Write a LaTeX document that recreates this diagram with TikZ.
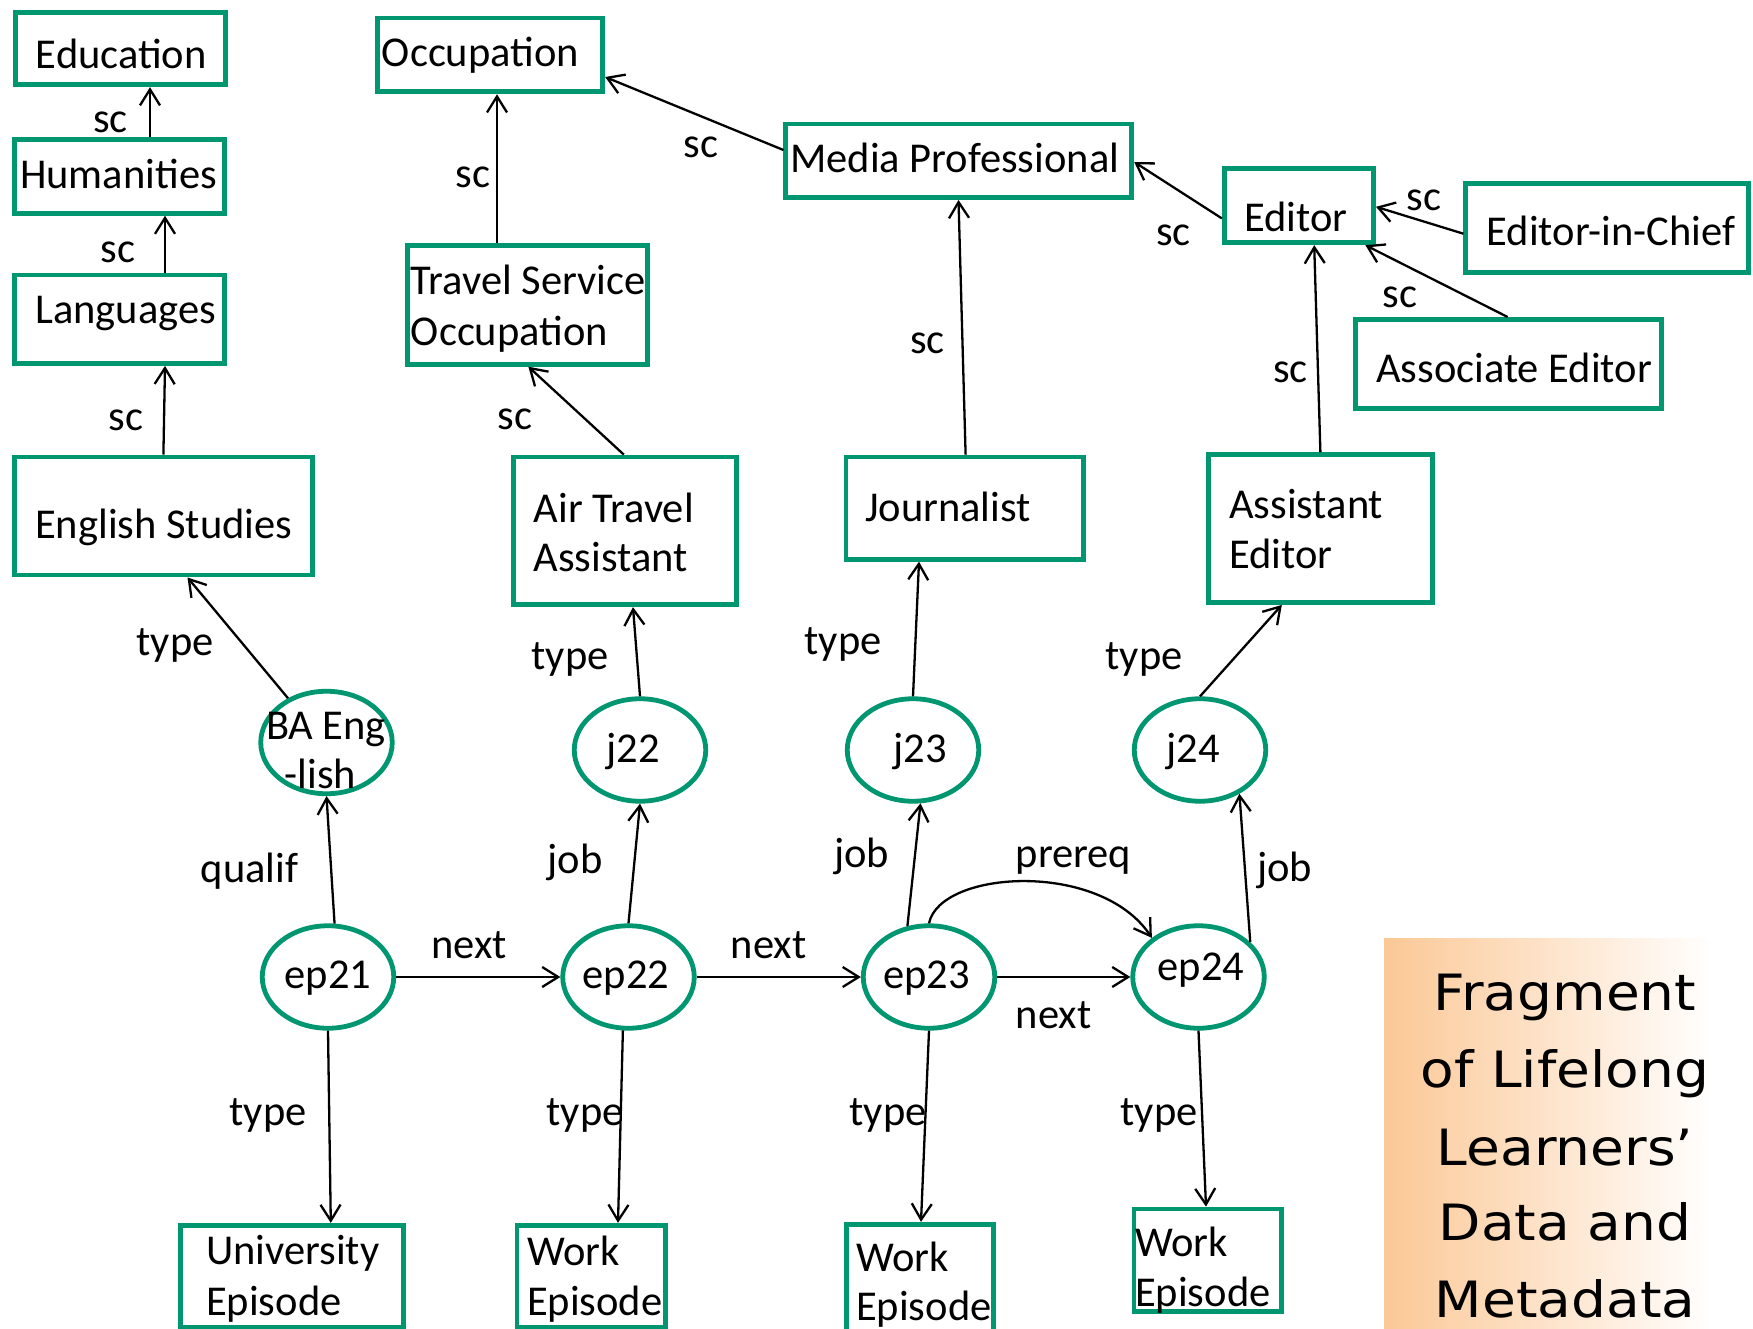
\documentclass[tikz,border=0pt]{standalone}
\usepackage{fontspec}
\setmainfont{Carlito}
\newfontfamily\titlefont[FakeStretch=1.1]{DejaVu Sans}
\usetikzlibrary{arrows.meta,shapes.geometric}
\definecolor{grn}{RGB}{0,150,112}
\definecolor{org}{RGB}{251,200,150}
\newcommand\lblfont{\fontsize{42.5}{48.5}\selectfont}
\newcommand\ttlfont{\titlefont\fontsize{50}{77}\selectfont}
\begin{document}
\begin{tikzpicture}[x=1pt,y=-1pt,
  box/.style={draw=grn,line width=4.8pt,inner sep=0pt,rectangle},
  ell/.style={draw=grn,line width=4.8pt,ellipse,inner sep=0pt,minimum width=131.5pt,minimum height=102.5pt},
  txt/.style={anchor=base west,inner sep=0pt,font=\lblfont},
  lab/.style={anchor=base,inner sep=0pt,font=\lblfont},
  ttl/.style={anchor=base,inner sep=0pt,font=\ttlfont},
  arr/.style={line width=2.3pt,-{Straight Barb[length=16pt,width=20pt]}},
]
\useasboundingbox (0,0) rectangle (1753,1329);
\clip (0,0) rectangle (1753,1329);
\fill[white] (0,0) rectangle (1753,1329);
\shade[left color=org,right color=white] (1384,938) rectangle (1713,1329);

% ---------- boxes ----------
\node[box,minimum width=209.8pt,minimum height=72.6pt] (edu) at (120.5,48.5) {};
\node[box,minimum width=209.8pt,minimum height=73.4pt] (hum) at (119.7,176.6) {};
\node[box,minimum width=209.8pt,minimum height=88.4pt] (lang) at (119.7,319.3) {};
\node[box,minimum width=297.7pt,minimum height=118.1pt] (eng) at (163.6,516) {};
\node[box,minimum width=225.5pt,minimum height=73.8pt] (occ) at (490,55) {};
\node[box,minimum width=240pt,minimum height=119pt] (tso) at (527.3,304.8) {};
\node[box,minimum width=222.6pt,minimum height=147.8pt] (ata) at (625,530.9) {};
\node[box,minimum width=237.8pt,minimum height=102.3pt] (jou) at (964.9,508.1) {};
\node[box,minimum width=346pt,minimum height=73.4pt] (med) at (958.8,160.8) {};
\node[box,minimum width=149.3pt,minimum height=74.2pt] (edi) at (1298.9,205.7) {};
\node[box,minimum width=283pt,minimum height=89.3pt] (eic) at (1607.3,228.2) {};
\node[box,minimum width=306pt,minimum height=89.1pt] (ase) at (1508.3,364) {};
\node[box,minimum width=223.6pt,minimum height=147.7pt] (ade) at (1320.6,528.7) {};
\node[box,minimum width=222.3pt,minimum height=102.5pt] (uni) at (292,1276.5) {};
\node[box,minimum width=148.2pt,minimum height=102.5pt] (w22) at (591,1276.5) {};
\node[box,minimum width=147.2pt,minimum height=118.5pt] (w23) at (920.2,1283.5) {};
\node[box,minimum width=147.3pt,minimum height=102.4pt] (w24) at (1207.7,1260.2) {};

% ---------- ellipses ----------
\node[ell] (ba) at (326.5,742.5) {};
\node[ell] (ep21) at (328,977) {};
\node[ell] (j22) at (640,750) {};
\node[ell] (ep22) at (628.5,977) {};
\node[ell] (j23) at (913,750) {};
\node[ell] (ep23) at (929,977) {};
\node[ell] (j24) at (1200,750) {};
\node[ell] (ep24) at (1198.5,977) {};

% ---------- box texts ----------
\node[txt] (edu-t) at (35.7,69) {Education};
\node[txt] (hum-t) at (20,189) {Humanities};
\node[txt] (lang-t) at (35,324) {Languages};
\node[txt] (eng-t) at (35,538) {English Studies};
\node[txt] (occ-t) at (381.7,67) {Occupation};
\node[txt] (tso-t1) at (410.7,294.6) {Travel Service};
\node[txt] (tso-t2) at (410.7,345) {Occupation};
\node[txt] (ata-t1) at (533.5,522) {Air Travel};
\node[txt] (ata-t2) at (533.5,571.4) {Assistant};
\node[txt] (jou-t) at (865,521) {Journalist};
\node[txt] (med-t) at (790,173) {Media Professional};
\node[txt] (edi-t) at (1244,231.7) {Editor};
\node[txt] (eic-t) at (1486.5,246) {Editor-in-Chief};
\node[txt] (ase-t) at (1376,382) {Associate Editor};
\node[txt] (ade-t1) at (1229,518.6) {Assistant};
\node[txt] (ade-t2) at (1229,568.3) {Editor};
\node[txt] (uni-t1) at (206,1264.8) {University};
\node[txt] (uni-t2) at (206,1315) {Episode};
\node[txt] (w22-t1) at (526.8,1265) {Work};
\node[txt] (w22-t2) at (526.8,1315) {Episode};
\node[txt] (w23-t1) at (856,1271.8) {Work};
\node[txt] (w23-t2) at (856,1320.6) {Episode};
\node[txt] (w24-t1) at (1135,1256.4) {Work};
\node[txt] (w24-t2) at (1135,1306.7) {Episode};

% ---------- ellipse texts ----------
\node[lab] (ba-t1) at (326,739.5) {BA Eng};
\node[lab] (ba-t2) at (320.5,788) {-lish};
\node[lab] (ep21-t) at (328,988) {ep21};
\node[lab] (j22-t) at (633,762.7) {j22};
\node[lab] (ep22-t) at (626,988) {ep22};
\node[lab] (j23-t) at (920,762.7) {j23};
\node[lab] (ep23-t) at (926.7,988) {ep23};
\node[lab] (j24-t) at (1193,762.7) {j24};
\node[lab] (ep24-t) at (1201,980) {ep24};

% ---------- connectors ----------
\draw[arr] ([xshift=30.3pt]hum.north) -- ([xshift=29.5pt]edu.south);
\draw[arr] ([xshift=45.3pt]lang.north) -- ([xshift=45.3pt]hum.south);
\draw[arr] ([xshift=-0.2pt]eng.north) -- ([xshift=45.3pt]lang.south);
\draw[arr] ([xshift=-30.3pt]tso.north) -- ([xshift=7pt]occ.south);
\draw[arr] ([xshift=-1.2pt]ata.north) -- ([xshift=1.1pt]tso.south);
\draw[arr] ([yshift=10.8pt]med.west) -- ([yshift=-22pt]occ.east);
\draw[arr] ([xshift=0.7pt]jou.north) -- ([xshift=-0.3pt]med.south);
\draw[arr] ([yshift=-12.7pt]edi.west) -- ([yshift=-1.2pt]med.east);
\draw[arr] ([yshift=-5.5pt]eic.west) -- ([yshift=-1.1pt]edi.east);
\draw[arr] ([xshift=-0.6pt]ase.north) -- ([xshift=66.5pt]edi.south);
\draw[arr] ([xshift=-0.2pt]ade.north) -- ([xshift=15.3pt]edi.south);

\draw[arr] (ba.131) -- ([xshift=23.9pt]eng.south);
\draw[arr] (ep21.83) -- (ba.south);
\draw[arr] (ep21.south) -- ([xshift=38.8pt]uni.north);
\draw[arr] (ep21.east) -- (ep22.west);
\draw[arr] (ep22.north) -- (j22.south);
\draw[arr] (j22.north) -- ([xshift=8pt]ata.south);
\draw[arr] (ep22.264) -- ([xshift=27pt]w22.north);
\draw[arr] (ep22.east) -- (ep23.west);
\draw[arr] (ep23.113) -- (j23.-82);
\draw[arr] (j23.north) -- ([xshift=-45.9pt]jou.south);
\draw[arr] (ep23.south) -- ([xshift=0.8pt]w23.north);
\draw[arr] (ep23.east) -- (ep24.west);
\draw[arr] (ep23.north) .. controls (940,870) and (1100,860) .. (ep24.140);
\draw[arr] (ep24.34) -- (j24.-48);
\draw[arr] (j24.north) -- ([xshift=-38.8pt]ade.south);
\draw[arr] (ep24.south) -- ([xshift=-1.7pt]w24.north);

% ---------- connector labels ----------
\node[lab] (l-sc1) at (110.5,132.5) {sc};
\node[lab] (l-sc2) at (118,263) {sc};
\node[lab] (l-sc3) at (125.7,430) {sc};
\node[lab] (l-sc4) at (473,187.8) {sc};
\node[lab] (l-sc5) at (515,429) {sc};
\node[lab] (l-sc6) at (701,158) {sc};
\node[lab] (l-sc7) at (927.5,354) {sc};
\node[lab] (l-sc8) at (1173.4,246) {sc};
\node[lab] (l-sc9) at (1424,211) {sc};
\node[lab] (l-sc10) at (1400,307.3) {sc};
\node[lab] (l-sc11) at (1290.5,382) {sc};
\node[lab] (l-type1) at (175,655) {type};
\node[lab] (l-qualif) at (249.5,882.6) {qualif};
\node[lab] (l-type2) at (268,1125) {type};
\node[lab] (l-next1) at (469,958) {next};
\node[lab] (l-job1) at (575,873) {job};
\node[lab] (l-type3) at (570,669.7) {type};
\node[lab] (l-type4) at (585,1125) {type};
\node[lab] (l-next2) at (768.5,958) {next};
\node[lab] (l-job2) at (861.5,867.3) {job};
\node[lab] (l-type5) at (843,654.9) {type};
\node[lab] (l-type6) at (888,1125) {type};
\node[lab] (l-next3) at (1053.5,1028.6) {next};
\node[lab] (l-prereq) at (1073.5,867.3) {prereq};
\node[lab] (l-job3) at (1284.5,881) {job};
\node[lab] (l-type7) at (1144,669.7) {type};
\node[lab] (l-type8) at (1159,1125) {type};

% ---------- title ----------
\node[ttl] (ttl1) at (1565,1010) {Fragment};
\node[ttl] (ttl2) at (1565,1087) {of Lifelong};
\node[ttl] (ttl3) at (1565,1165) {Learners’};
\node[ttl] (ttl4) at (1565,1240) {Data and};
\node[ttl] (ttl5) at (1565,1317) {Metadata};
\end{tikzpicture}
\end{document}
